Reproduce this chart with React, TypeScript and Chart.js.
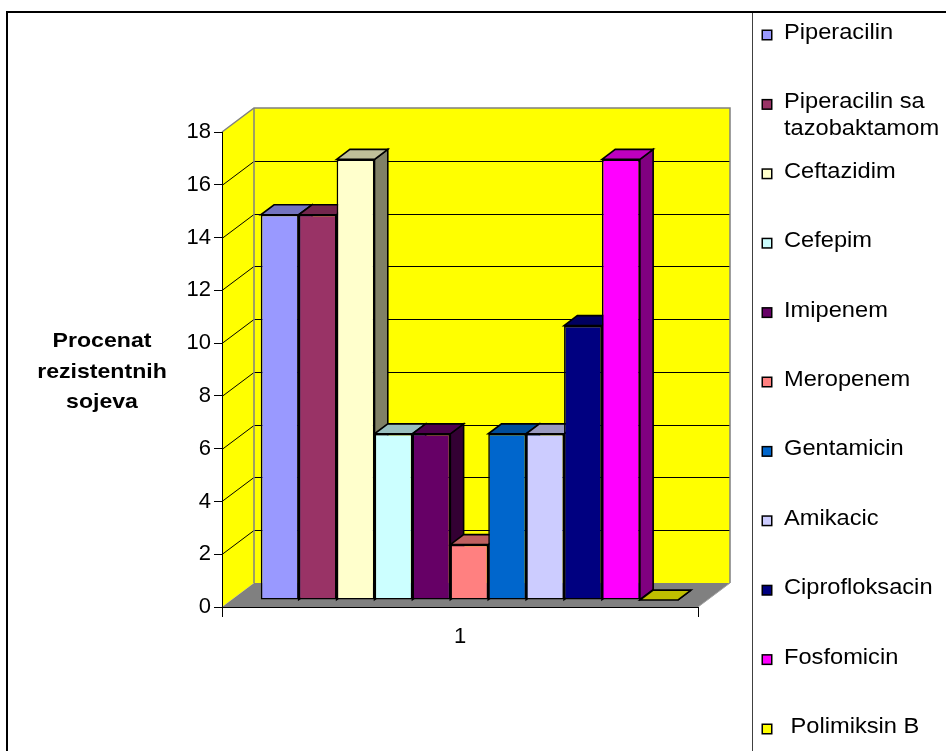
import React, { useEffect, useRef } from 'react';
import { Chart, registerables } from 'chart.js';

Chart.register(...registerables);

// ---- data ----
const categories = ['1'];
const seriesNames = [
  'Piperacilin',
  'Piperacilin sa tazobaktamom',
  'Ceftazidim',
  'Cefepim',
  'Imipenem',
  'Meropenem',
  'Gentamicin',
  'Amikacic',
  'Ciprofloksacin',
  'Fosfomicin',
  ' Polimiksin B',
];
const seriesValues = [14.6, 14.6, 16.7, 6.3, 6.3, 2.1, 6.3, 6.3, 10.4, 16.7, 0];
const seriesColors = [
  '#9999FF',
  '#993366',
  '#FFFFCC',
  '#CCFFFF',
  '#660066',
  '#FF8080',
  '#0066CC',
  '#CCCCFF',
  '#000080',
  '#FF00FF',
  '#FFFF00',
];
const yMin = 0;
const yMax = 18;
const yStep = 2;
const axisTitleLines = ['Procenat', 'rezistentnih', 'sojeva'];

// ---- styling ----
const FONT = '"Liberation Sans", Arial, Helvetica, sans-serif';
const DEPTH_X = 32; // full depth of the 3D box
const DEPTH_Y = -24;
const BAR_FRONT = 0.29; // where the bar fronts sit inside the box depth
const BAR_DEPTH = 0.415; // how deep each bar is
const WALL = '#FFFF00';
const FLOOR = '#808080';
const TEXT_STRETCH = 1.1;

function shade(hex: string, f: number): string {
  const n = parseInt(hex.slice(1), 16);
  const r = Math.round(((n >> 16) & 255) * f);
  const g = Math.round(((n >> 8) & 255) * f);
  const b = Math.round((n & 255) * f);
  return `rgb(${r},${g},${b})`;
}

function stretchedText(
  ctx: CanvasRenderingContext2D,
  text: string,
  x: number,
  y: number,
  align: CanvasTextAlign,
) {
  ctx.save();
  ctx.translate(x, y);
  ctx.scale(TEXT_STRETCH, 1);
  ctx.textAlign = align;
  ctx.textBaseline = 'alphabetic';
  ctx.fillText(text, 0, 0);
  ctx.restore();
}

function poly(ctx: CanvasRenderingContext2D, pts: number[][]) {
  ctx.beginPath();
  ctx.moveTo(pts[0][0], pts[0][1]);
  for (let i = 1; i < pts.length; i++) ctx.lineTo(pts[i][0], pts[i][1]);
  ctx.closePath();
}

// Back wall, side wall, floor and wall gridlines
const wallsPlugin = {
  id: 'walls3d',
  beforeDraw(chart: any) {
    const { ctx, chartArea: a } = chart;
    const ys = chart.scales.y;
    ctx.save();
    // side wall
    ctx.fillStyle = WALL;
    poly(ctx, [
      [a.left, a.bottom],
      [a.left, a.top],
      [a.left + DEPTH_X, a.top + DEPTH_Y],
      [a.left + DEPTH_X, a.bottom + DEPTH_Y],
    ]);
    ctx.fill();
    // back wall
    ctx.fillRect(a.left + DEPTH_X, a.top + DEPTH_Y, a.right - a.left, a.bottom - a.top);
    // floor
    ctx.fillStyle = FLOOR;
    poly(ctx, [
      [a.left, a.bottom],
      [a.right, a.bottom],
      [a.right + DEPTH_X, a.bottom + DEPTH_Y],
      [a.left + DEPTH_X, a.bottom + DEPTH_Y],
    ]);
    ctx.fill();
    ctx.strokeStyle = '#A0A0A0';
    ctx.lineWidth = 1;
    ctx.beginPath();
    ctx.moveTo(a.right, a.bottom);
    ctx.lineTo(a.right + DEPTH_X, a.bottom + DEPTH_Y);
    ctx.stroke();

    // gridlines on the walls
    ctx.strokeStyle = '#000';
    ctx.lineWidth = 1;
    for (const t of ys.ticks) {
      if (t.value <= yMin || t.value >= yMax) continue;
      const yp = Math.round(ys.getPixelForValue(t.value)) + 0.5;
      ctx.beginPath();
      ctx.moveTo(a.left, yp);
      ctx.lineTo(a.left + DEPTH_X, yp + DEPTH_Y);
      ctx.lineTo(a.right + DEPTH_X, yp + DEPTH_Y);
      ctx.stroke();
    }

    // wall outlines
    ctx.strokeStyle = '#808080';
    ctx.lineWidth = 1.5;
    ctx.beginPath();
    ctx.moveTo(a.left, a.top);
    ctx.lineTo(a.left + DEPTH_X, a.top + DEPTH_Y);
    ctx.lineTo(a.right + DEPTH_X, a.top + DEPTH_Y);
    ctx.lineTo(a.right + DEPTH_X, a.bottom + DEPTH_Y);
    ctx.stroke();
    ctx.beginPath();
    ctx.moveTo(a.left + DEPTH_X, a.top + DEPTH_Y);
    ctx.lineTo(a.left + DEPTH_X, a.bottom + DEPTH_Y);
    ctx.stroke();
    ctx.restore();
  },
};

// Top and side faces of the bars; the fronts are pushed into the box depth
const bars3dPlugin = {
  id: 'bars3d',
  beforeDatasetsDraw(chart: any) {
    const { ctx } = chart;
    const fx = DEPTH_X * BAR_FRONT;
    const fy = DEPTH_Y * BAR_FRONT;
    const bdx = DEPTH_X * BAR_DEPTH;
    const bdy = DEPTH_Y * BAR_DEPTH;
    const boxes: any[] = [];
    chart.data.datasets.forEach((ds: any, i: number) => {
      const meta = chart.getDatasetMeta(i);
      meta.data.forEach((el: any) => {
        const p = el.getProps(['x', 'y', 'base', 'width'], true);
        const L = p.x - p.width / 2 + fx;
        const R = p.x + p.width / 2 + fx;
        const T = Math.min(p.y, p.base) + fy;
        const B = Math.max(p.y, p.base) + fy;
        boxes.push({ L, R, T, B, color: ds.backgroundColor });
      });
    });
    ctx.save();
    ctx.lineWidth = 1.6;
    ctx.lineJoin = 'miter';
    ctx.strokeStyle = '#000';
    for (const b of boxes) {
      ctx.fillStyle = shade(b.color, 0.5);
      poly(ctx, [
        [b.R, b.T],
        [b.R + bdx, b.T + bdy],
        [b.R + bdx, b.B + bdy],
        [b.R, b.B],
      ]);
      ctx.fill();
      ctx.stroke();
    }
    for (const b of boxes) {
      ctx.fillStyle = shade(b.color, 0.75);
      poly(ctx, [
        [b.L, b.T],
        [b.R, b.T],
        [b.R + bdx, b.T + bdy],
        [b.L + bdx, b.T + bdy],
      ]);
      ctx.fill();
      ctx.stroke();
    }
    ctx.restore();
    ctx.save();
    ctx.translate(fx, fy);
  },
  afterDatasetsDraw(chart: any) {
    chart.ctx.restore();
  },
};

// Axis title, legend and frames
const decorPlugin = {
  id: 'decor',
  afterDraw(chart: any) {
    const { ctx } = chart;
    ctx.save();
    ctx.fillStyle = '#000';

    // vertical axis title
    ctx.font = `bold 21px ${FONT}`;
    axisTitleLines.forEach((line, i) => {
      stretchedText(ctx, line, 102, 347 + i * 30.5, 'center');
    });

    // legend
    ctx.font = `21.5px ${FONT}`;
    const textX = 784;
    const maxW = 946 - textX;
    chart.data.datasets.forEach((ds: any, i: number) => {
      const base = 39 + i * 69.4;
      ctx.fillStyle = ds.backgroundColor;
      ctx.fillRect(762, base - 9, 10, 10);
      ctx.strokeStyle = '#000';
      ctx.lineWidth = 1.5;
      ctx.strokeRect(762.25, base - 8.75, 9.5, 9.5);
      ctx.fillStyle = '#000';
      // word wrap, keeping any leading spaces of the label
      const label = String(ds.label);
      const lead = (label.match(/^\s*/) || [''])[0];
      const words = label.slice(lead.length).split(' ');
      const lines: string[] = [];
      let cur = lead + words[0];
      for (let k = 1; k < words.length; k++) {
        const test = cur + ' ' + words[k];
        if (ctx.measureText(test).width * TEXT_STRETCH > maxW) {
          lines.push(cur);
          cur = words[k];
        } else {
          cur = test;
        }
      }
      lines.push(cur);
      lines.forEach((ln, k) => stretchedText(ctx, ln, textX, base + k * 27, 'left'));
    });

    // legend frame
    ctx.strokeStyle = '#404040';
    ctx.lineWidth = 1;
    ctx.beginPath();
    ctx.moveTo(752.5, 12);
    ctx.lineTo(752.5, 760);
    ctx.stroke();

    // outer frame
    ctx.strokeStyle = '#000';
    ctx.lineWidth = 2;
    ctx.strokeRect(7, 12, 2000, 2000);
    ctx.restore();
  },
};

export default function App() {
  const canvasRef = useRef<HTMLCanvasElement | null>(null);

  useEffect(() => {
    const canvas = canvasRef.current;
    if (!canvas) return;
    const chart = new Chart(canvas, {
      type: 'bar',
      data: {
        labels: categories,
        datasets: seriesNames.map((name, i) => ({
          label: name,
          data: [seriesValues[i]],
          backgroundColor: seriesColors[i],
          borderColor: '#000',
          borderWidth: 1.6,
          borderSkipped: false,
          categoryPercentage: 0.876,
          barPercentage: 1,
          clip: false,
        })),
      },
      options: {
        animation: false,
        responsive: false,
        devicePixelRatio: 1,
        layout: { padding: { top: 132, right: 248, left: 0, bottom: 0 } },
        plugins: {
          legend: { display: false },
          tooltip: { enabled: false },
          title: { display: false },
        },
        scales: {
          x: {
            type: 'category',
            offset: true,
            grid: {
              offset: true,
              drawOnChartArea: false,
              drawTicks: true,
              tickLength: 10,
              color: '#000',
            },
            border: { display: true, color: '#000', width: 1 },
            ticks: { color: '#000', font: { family: FONT, size: 22 }, padding: 7 },
            afterFit: (s: any) => {
              s.height = 144;
            },
          },
          y: {
            min: yMin,
            max: yMax,
            ticks: {
              stepSize: yStep,
              color: '#000',
              font: { family: FONT, size: 22 },
              padding: 3,
            },
            grid: { drawOnChartArea: false, tickLength: 8, color: '#000' },
            border: { display: true, color: '#000', width: 1 },
            afterFit: (s: any) => {
              s.width = 222;
            },
          },
        },
      },
      plugins: [wallsPlugin, bars3dPlugin, decorPlugin],
    } as any);
    return () => chart.destroy();
  }, []);

  return (
    <div
      style={{
        position: 'fixed',
        left: 0,
        top: 0,
        width: 946,
        height: 751,
        background: '#fff',
        overflow: 'hidden',
      }}
    >
      <canvas ref={canvasRef} width={946} height={751} style={{ display: 'block' }} />
    </div>
  );
}
